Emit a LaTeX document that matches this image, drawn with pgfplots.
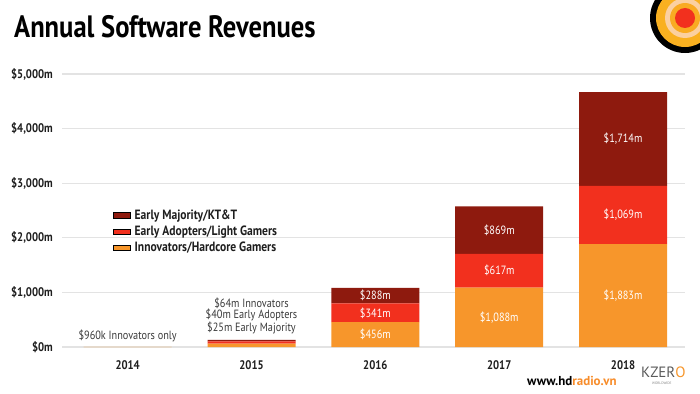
\documentclass[border=0pt]{standalone}
\usepackage{fontspec}
\setmainfont{PT Sans}
\newfontfamily\cond[FakeStretch=0.86]{PT Sans}
\usepackage{pgfplots}
\pgfplotsset{compat=1.18}
\definecolor{dmaj}{HTML}{8E1A0E}
\definecolor{eadp}{HTML}{F2301E}
\definecolor{inno}{HTML}{F7962B}
\definecolor{txt}{HTML}{1E1E1E}
\definecolor{ann}{HTML}{3A3A3A}
\tikzset{lab/.style={text=white, font=\cond\fontsize{12}{14}\selectfont}}
\begin{document}
\begin{tikzpicture}[x=1bp,y=1bp]
\path[use as bounding box] (0,0) rectangle (700,393);
\begin{scope}
\clip (0,0) rectangle (700,393);
\fill[black] (685,375) circle (35);
\fill[inno!75!yellow] (685,375) circle (29);
\fill[inno!45!white] (685,375) circle (20);
\fill[inno!80!yellow] (685,375) circle (15);
\fill[eadp] (685,375) circle (10);
\end{scope}
\node[anchor=base west, inner sep=0pt, font=\cond\bfseries\fontsize{31}{34}\selectfont, text=black] at (14,356) {Annual Software Revenues};
\begin{axis}[
  at={(62bp,46bp)}, anchor=south west,
  scale only axis, width=623bp, height=273bp,
  xmin=-0.53, xmax=4.5, ymin=0, ymax=5000,
  ybar stacked, bar width=88bp,
  axis line style={draw=none},
  major tick length=0pt,
  ymajorgrids, grid style={gray!22, line width=1.2bp},
  ytick={0,1000,2000,3000,4000,5000},
  yticklabels={\$0m,\$1{,}000m,\$2{,}000m,\$3{,}000m,\$4{,}000m,\$5{,}000m},
  yticklabel style={inner sep=0pt, xshift=-9bp, font=\cond\bfseries\fontsize{12.5}{14}\selectfont, text=txt},
  xtick={0,1,2,3,4},
  xticklabels={2014,2015,2016,2017,2018},
  xticklabel style={inner sep=0pt, yshift=-13bp, font=\cond\bfseries\fontsize{12.5}{14}\selectfont, text=txt},
  legend style={at={(0.082,0.51)}, anchor=north west, draw=none, fill=none,
    font=\cond\bfseries\fontsize{13.5}{14}\selectfont, text=txt,
    row sep=1bp, inner sep=0pt, nodes={inner xsep=4bp}},
  legend cell align=left,
]
\addlegendimage{area legend, fill=dmaj, draw=none}
\addlegendentry{Early Majority/KT\&T}
\addlegendimage{area legend, fill=eadp, draw=none}
\addlegendentry{Early Adopters/Light Gamers}
\addlegendimage{area legend, fill=inno, draw=none}
\addlegendentry{Innovators/Hardcore Gamers}
\addplot[fill=inno, draw=none, forget plot] coordinates {(0,0.96) (1,64) (2,456) (3,1088) (4,1883)};
\addplot[fill=eadp, draw=none, forget plot] coordinates {(0,0) (1,40) (2,341) (3,617) (4,1069)};
\addplot[fill=dmaj, draw=none, forget plot] coordinates {(0,0) (1,25) (2,288) (3,869) (4,1714)};
\coordinate (l1) at (axis cs:2,228);
\coordinate (l2) at (axis cs:2,626);
\coordinate (l3) at (axis cs:2,941);
\coordinate (l4) at (axis cs:3,544);
\coordinate (l5) at (axis cs:3,1396);
\coordinate (l6) at (axis cs:3,2139);
\coordinate (l7) at (axis cs:4,941);
\coordinate (l8) at (axis cs:4,2417);
\coordinate (l9) at (axis cs:4,3809);
\node[text=ann, font=\cond\fontsize{12}{14}\selectfont] at (axis cs:0,200) {\$960k Innovators only};
\node[text=ann, font=\cond\fontsize{12}{11}\selectfont, align=center, anchor=south, inner sep=0pt] at (axis cs:1,240) {\$64m Innovators\\\$40m Early Adopters\\\$25m Early Majority};
\end{axis}
\node[lab] at (l1) {\$456m};
\node[lab] at (l2) {\$341m};
\node[lab] at (l3) {\$288m};
\node[lab] at (l4) {\$1{,}088m};
\node[lab] at (l5) {\$617m};
\node[lab] at (l6) {\$869m};
\node[lab] at (l7) {\$1{,}883m};
\node[lab] at (l8) {\$1{,}069m};
\node[lab] at (l9) {\$1{,}714m};
\node[anchor=base west, inner sep=0pt, font=\bfseries\fontsize{13}{15}\selectfont] at (527,8) {www.hd\textcolor{inno!90!eadp}{radio.vn}};
\node[anchor=base west, inner sep=0pt, text depth=0pt, font=\fontsize{15}{15}\selectfont, text=gray!70!black] at (641,16) {KZER\textcolor{inno}{O}};
\node[anchor=base west, inner sep=0pt, font=\fontsize{3.5}{4}\selectfont, text=gray] at (652,9) {WORLDWIDE};
\end{tikzpicture}
\end{document}
